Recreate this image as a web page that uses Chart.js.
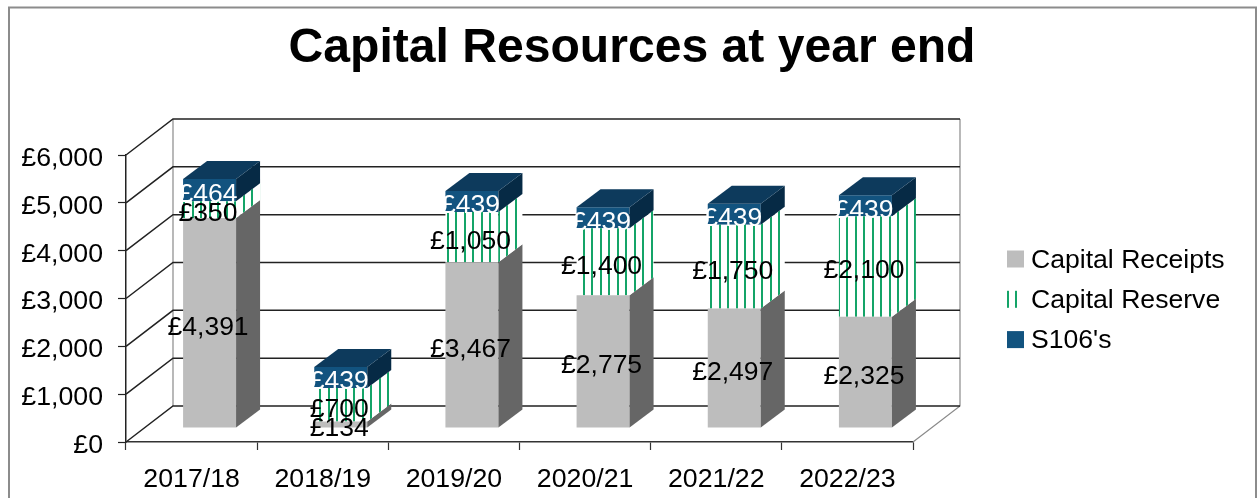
<!DOCTYPE html>
<html><head><meta charset="utf-8">
<style>html,body{margin:0;padding:0;background:#fff}canvas{display:block}</style>
<script src="https://cdn.jsdelivr.net/npm/chart.js@4"></script>
</head><body><canvas id="c" width="1259" height="498"></canvas>
<script>
const categories=['2017/18','2018/19','2019/20','2020/21','2021/22','2022/23'];
const capitalReceipts=[4391,134,3467,2775,2497,2325];
const capitalReserve=[350,700,1050,1400,1750,2100];
const s106=[464,439,439,439,439,439];
const seriesNames=['Capital Receipts','Capital Reserve',"S106's"];
const yTicks=[0,1000,2000,3000,4000,5000,6000];

const FONT='"Liberation Sans",Arial,sans-serif';
const GRAY='#bdbdbd',GRAY_SIDE='#666666',BLUE='#12537f',BLUE_TOP='#0d3a5c',BLUE_SIDE='#062a45',GREEN='#14a468';
function stripes(){
  const p=document.createElement('canvas');p.width=17;p.height=2;
  const g=p.getContext('2d');g.fillStyle='#fff';g.fillRect(0,0,17,2);
  g.fillStyle=GREEN;g.fillRect(4,0,2,2);g.fillRect(12,0,2,2);
  return g.createPattern(p,'repeat');
}
const stripePattern=stripes();
const WALL={dx:47,dy:-36},BAR={dx:18,dy:-14},SIDE={dx:24,dy:-18};
const fmt=v=>'£'+Number(v).toLocaleString('en-GB');

const threeD={
  id:'threeD',
  beforeDraw(ch){
    const c=ch.ctx;c.save();
    c.fillStyle='#fff';c.fillRect(0,0,ch.width,ch.height);
    c.strokeStyle='#8c8c8c';c.lineWidth=2;
    c.strokeRect(9,7.5,1247,520);
    c.restore();
  },
  afterLayout(ch){ch.titleBlock.left=5;ch.titleBlock.right=ch.width;},
  beforeDatasetsDraw(ch){
    const c=ch.ctx,{left,right,top,bottom}=ch.chartArea,y=ch.scales.y;
    c.save();
    c.strokeStyle='#8a8a8a';c.lineWidth=1.2;
    c.beginPath();
    c.moveTo(left+WALL.dx,top+WALL.dy);c.lineTo(left+WALL.dx,bottom+WALL.dy);
    c.moveTo(right+WALL.dx,top+WALL.dy);c.lineTo(right+WALL.dx,bottom+WALL.dy);
    c.lineTo(right,bottom);
    c.stroke();
    c.strokeStyle='#222';c.lineWidth=1.5;
    yTicks.forEach(v=>{
      const py=y.getPixelForValue(v);
      c.beginPath();
      c.moveTo(left,py);c.lineTo(left+WALL.dx,py+WALL.dy);
      c.lineTo(right+WALL.dx,py+WALL.dy);
      c.stroke();
    });
    c.restore();
    c.save();c.translate(BAR.dx,BAR.dy);
  },
  afterDatasetsDraw(ch){
    const c=ch.ctx;
    const metas=ch.getSortedVisibleDatasetMetas();
    const sides=[GRAY_SIDE,stripePattern,BLUE_SIDE];
    metas.forEach((m,di)=>{
      m.data.forEach(b=>{
        const r=b.x+b.width/2,yt=b.y,yb=b.base;
        c.fillStyle=sides[di];
        c.beginPath();c.moveTo(r,yt);c.lineTo(r+SIDE.dx,yt+SIDE.dy);
        c.lineTo(r+SIDE.dx,yb+SIDE.dy);c.lineTo(r,yb);c.closePath();c.fill();
        if(di===metas.length-1){
          const l=b.x-b.width/2;
          c.fillStyle=BLUE_TOP;
          c.beginPath();c.moveTo(l,yt);c.lineTo(l+SIDE.dx,yt+SIDE.dy);
          c.lineTo(r+SIDE.dx,yt+SIDE.dy);c.lineTo(r,yt);c.closePath();c.fill();
        }
      });
    });
    c.font='26.5px '+FONT;c.textAlign='center';c.textBaseline='middle';
    metas.forEach((m,di)=>{
      c.fillStyle=di===2?'#fff':'#000';
      const vals=ch.data.datasets[m.index].data;
      m.data.forEach((b,i)=>{
        c.fillText(fmt(vals[i]),b.x-1.5,(b.y+b.base)/2+4.5);
      });
    });
    c.restore();
  },
  afterDraw(ch){
    const c=ch.ctx;c.save();
    c.font='26.6px '+FONT;c.textBaseline='middle';c.textAlign='left';
    ch.data.datasets.forEach((d,i)=>{
      const cy=259+i*40.3;
      c.fillStyle=d.backgroundColor;
      c.fillRect(1007,cy-8.5,17,17);
      c.fillStyle='#000';
      c.fillText(d.label,1031,cy+1.5);
    });
    c.restore();
  }
};

new Chart(document.getElementById('c'),{
  type:'bar',
  plugins:[threeD],
  data:{labels:categories,datasets:[
    {label:seriesNames[0],data:capitalReceipts,backgroundColor:GRAY,clip:false},
    {label:seriesNames[1],data:capitalReserve,backgroundColor:stripePattern,clip:false},
    {label:seriesNames[2],data:s106,backgroundColor:BLUE,clip:false}
  ]},
  options:{
    responsive:false,animation:false,
    layout:{padding:{left:0,right:346,top:0,bottom:0}},
    datasets:{bar:{barPercentage:0.404,categoryPercentage:1,borderWidth:0}},
    plugins:{
      legend:{display:false},tooltip:{enabled:false},
      title:{display:true,text:'Capital Resources at year end',color:'#000',
        font:{family:FONT,size:48.1,weight:'bold',lineHeight:1.2},
        padding:{top:20,bottom:77.3}}
    },
    scales:{
      x:{stacked:true,
        afterFit(s){s.height=56;},
        border:{color:'#333',width:1.5},
        grid:{drawOnChartArea:false,color:'#333',tickLength:8,tickWidth:1.2},
        ticks:{color:'#000',font:{family:FONT,size:26.7},padding:14,maxRotation:0}},
      y:{stacked:true,min:0,max:6000,
        afterFit(s){s.width=126;},
        afterBuildTicks(s){s.ticks=yTicks.map(v=>({value:v}));},
        border:{color:'#222',width:1.5},
        grid:{drawOnChartArea:false,color:'#222',tickLength:8,tickWidth:1.2},
        ticks:{color:'#000',font:{family:FONT,size:26.7},padding:15,labelOffset:3.5,callback:fmt}}
    }
  }
});
</script></body></html>
